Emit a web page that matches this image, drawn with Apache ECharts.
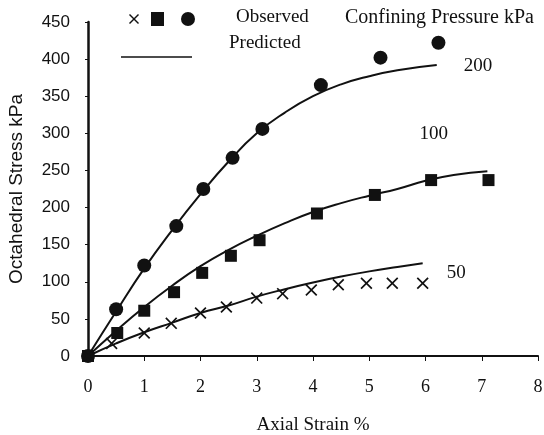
<!DOCTYPE html>
<html>
<head>
<meta charset="utf-8">
<script src="https://cdn.jsdelivr.net/npm/echarts@6/dist/echarts.min.js"></script>
<style>
  html, body { margin: 0; padding: 0; background: #fff; }
  #chart { width: 544px; height: 435px; }
</style>
</head>
<body>
<div id="chart"></div>
<script>
// observed values (axial strain %, octahedral stress kPa)
const obs200 = [[0, 0], [0.5, 63], [1, 122], [1.57, 175], [2.05, 225], [2.57, 267], [3.1, 306], [4.14, 365], [5.2, 402], [6.23, 422]];
const obs100 = [[0, 0], [0.52, 31], [1, 61], [1.53, 86], [2.03, 112], [2.54, 135], [3.05, 156], [4.07, 192], [5.1, 217], [6.1, 237], [7.12, 237]];
const obs50 = [[0, 0], [0.42, 17], [1, 31], [1.48, 44], [2.0, 58], [2.46, 66], [3.0, 78], [3.46, 84], [3.97, 89], [4.45, 96], [4.95, 98], [5.41, 98], [5.95, 98]];

// predicted curves
const pred200 = [[0, 0], [0.5, 60], [1, 118], [1.5, 170], [2, 218], [2.5, 262], [3, 300], [3.5, 328], [4, 350], [4.5, 366], [5, 377], [5.5, 385], [6.2, 392]];
const pred100 = [[0, 0], [0.5, 34], [1, 66], [1.5, 95], [2, 121], [2.5, 143], [3, 162], [3.5, 179], [4, 194], [4.5, 206], [5, 216], [5.5, 225], [6, 236], [6.5, 244], [7.1, 249]];
const pred50 = [[0, 0], [0.5, 17], [1, 32], [1.5, 45], [2, 58], [2.5, 68], [3, 80], [3.5, 90], [4, 99], [4.5, 107], [5, 114], [5.5, 120], [5.95, 125]];

const crossPath = 'path://M0,1L1,0L5,4L9,0L10,1L6,5L10,9L9,10L5,6L1,10L0,9L4,5Z';
const serif = 'Liberation Serif';
const sans = 'Liberation Sans';

const chart = echarts.init(document.getElementById('chart'));

function predLine(data, label, offset) {
    return {
        type: 'line',
        data: data,
        smooth: true,
        showSymbol: false,
        lineStyle: { color: '#111', width: 2 },
        endLabel: {
            show: true,
            formatter: label,
            color: '#111',
            fontFamily: serif,
            fontSize: 19,
            offset: offset
        },
        z: 2
    };
}

function obsPoints(data, symbol, size) {
    return {
        type: 'scatter',
        data: data,
        symbol: symbol,
        symbolSize: size,
        itemStyle: { color: '#111', opacity: 1 },
        z: 3
    };
}

// little x for the legend, same shape as the symbol
const xLeg = [[0, 1], [1, 0], [5, 4], [9, 0], [10, 1], [6, 5], [10, 9], [9, 10], [5, 6], [1, 10], [0, 9], [4, 5]]
    .map(p => [129 + p[0], 14 + p[1]]);

const option = {
    animation: false,
    backgroundColor: '#fff',
    grid: { left: 88, right: 6, top: 22, bottom: 79, outerBoundsMode: 'none', containLabel: false },
    xAxis: {
        type: 'value',
        min: 0, max: 8, interval: 1,
        name: 'Axial Strain %',
        nameLocation: 'middle',
        nameGap: 60,
        nameTextStyle: { fontFamily: serif, fontSize: 19, color: '#111' },
        axisLine: { lineStyle: { color: '#111', width: 2 } },
        axisTick: { lineStyle: { color: '#111' }, length: 5 },
        axisLabel: { fontFamily: serif, fontSize: 18, color: '#111', margin: 22 },
        splitLine: { show: false }
    },
    yAxis: {
        type: 'value',
        min: 0, max: 450, interval: 50,
        name: 'Octahedral Stress kPa',
        nameLocation: 'middle',
        nameGap: 62,
        nameTextStyle: { fontFamily: sans, fontSize: 19, color: '#111' },
        axisLine: { show: true, lineStyle: { color: '#111', width: 2.5 } },
        axisTick: { show: true, length: 3, lineStyle: { color: '#111' } },
        axisLabel: { fontFamily: sans, fontSize: 17, color: '#111', margin: 18 },
        splitLine: { show: false }
    },
    graphic: [
        { type: 'polygon', shape: { points: xLeg }, style: { fill: '#111' } },
        { type: 'rect', shape: { x: 151, y: 12, width: 13, height: 14 }, style: { fill: '#111' } },
        { type: 'circle', shape: { cx: 188, cy: 19, r: 7 }, style: { fill: '#111' } },
        { type: 'text', left: 236, top: 8, style: { text: 'Observed', font: '19px "Liberation Serif"', fill: '#111' } },
        { type: 'text', left: 345, top: 8, style: { text: 'Confining Pressure kPa', font: '20px "Liberation Serif"', fill: '#111' } },
        { type: 'line', shape: { x1: 121, y1: 57, x2: 192, y2: 57 }, style: { stroke: '#111', lineWidth: 1.5 } },
        { type: 'text', left: 229, top: 34, style: { text: 'Predicted', font: '19px "Liberation Serif"', fill: '#111' } }
    ],
    series: [
        predLine(pred200, '200', [19, 1]),
        predLine(pred100, '100', [-76, -37]),
        predLine(pred50, '50', [16, 10]),
        obsPoints(obs200, 'circle', 14),
        obsPoints(obs100, 'rect', 12),
        obsPoints(obs50, crossPath, 12)
    ]
};

chart.setOption(option);
</script>
</body>
</html>
